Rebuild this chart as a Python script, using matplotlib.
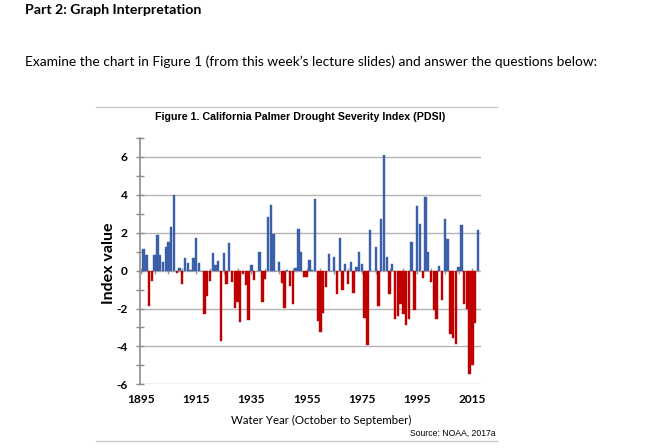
import matplotlib
matplotlib.use("Agg")
import matplotlib.pyplot as plt
from matplotlib.lines import Line2D

plt.rcParams['font.family'] = ['Lato', 'DejaVu Sans']

# California PDSI by water year
years = list(range(1896, 2018))
pdsi = [1.15, 0.85, -1.85, -0.55, 0.81, 1.87, 0.83, 0.46, 1.25, 1.53,
        2.28, 3.99, -0.10, 0.14, -0.70, 0.64, 0.40, 0.02, 0.69, 1.71,
        0.42, 0.0, -2.29, -1.36, -0.53, 0.92, 0.30, 0.51, -3.70, 0.92,
        -0.70, 1.45, -0.62, -1.95, -1.65, -2.70, -0.20, -0.77, -2.58, 0.30,
        -0.47, 0.0, 1.00, -1.65, -0.45, 2.84, 3.45, 1.94, 0.0, 0.44,
        -0.67, -1.95, 0.03, -0.83, -1.76, 0.15, 2.20, 1.00, -0.33, -0.33,
        0.58, 0.03, 3.80, -2.68, -3.26, -2.25, -0.87, 0.88, 0.0, 0.72,
        -1.22, 1.73, -1.04, 0.37, -0.70, 0.44, -1.18, 0.19, 0.99, 0.36,
        -2.50, -3.95, 2.13, 0.0, 1.23, -1.89, 2.70, 6.08, 0.72, -1.22,
        0.35, -2.56, -2.42, -1.76, -2.29, -2.89, -2.56, 1.52, -2.10, 3.40,
        2.47, -0.39, 3.88, 0.98, -0.62, -2.08, -2.56, 0.22, -1.57, 2.70,
        1.68, -3.33, -3.53, -3.88, 0.18, 2.43, -1.75, -2.03, -5.45, -4.97,
        -2.75, 2.17]

xtick_years = list(range(1895, 2016, 20))
ytick_vals = [-6, -4, -2, 0, 2, 4, 6]

blue = '#3b5fa9'
red = '#c00000'
colors = [blue if v >= 0 else red for v in pdsi]

fig = plt.figure(figsize=(6.6, 4.48), dpi=100)

# document text around the chart
fig.text(25/660, 1 - 9.5/448, 'Part 2: Graph Interpretation', fontsize=10.2,
         fontweight='bold', va='center', ha='left')
fig.text(25/660, 1 - 62/448,
         'Examine the chart in Figure 1 (from this week\u2019s lecture slides) and answer the questions below:',
         fontsize=9.9, va='center', ha='left')

# picture border lines
for yy in (107, 440.5):
    fig.add_artist(Line2D([96/660, 497/660], [1 - yy/448] * 2, color='#c8c8c8', lw=1))

ax = fig.add_axes([140/660, 1 - 384.3/448, 341/660, 246.3/448])

ax.bar(years, pdsi, width=0.85, color=colors, edgecolor=colors, linewidth=0.3, zorder=2)
# small ticks on the zero line every 5 years
ax.vlines(range(1895, 2016, 5), -0.16, 0.16, color='#999999', lw=1, zorder=1.5)

ax.set_xlim(1894.7, 2018.1)
ax.set_ylim(-6, 7)
ax.set_xticks(xtick_years)
ax.set_xticklabels([str(y) for y in xtick_years], fontsize=8.6, fontweight='bold')
ax.set_yticks(ytick_vals)
ax.set_yticklabels([str(v) for v in ytick_vals], fontsize=8.6, fontweight='bold')
ax.set_yticks(range(-5, 8, 2), minor=True)
ax.tick_params(axis='x', length=0, pad=7)
ax.tick_params(axis='y', which='both', direction='inout', length=6, width=1,
               color='#8c8c8c', pad=6)

ax.yaxis.grid(True, which='major', color='#b4b4b4', lw=1)
ax.set_axisbelow(True)
for s in ('top', 'right', 'bottom'):
    ax.spines[s].set_visible(False)
ax.spines['left'].set_color('#8c8c8c')
ax.spines['left'].set_linewidth(1.2)
ax.set_facecolor('none')

fig.text(109/660, 1 - 263.5/448, 'Index value', fontsize=11.5, fontweight='bold',
         rotation=90, ha='center', va='center')

fig.text(300/660, 1 - 117/448, 'Figure 1. California Palmer Drought Severity Index (PDSI)',
         fontsize=7.7, fontweight='bold', family='Liberation Sans', ha='center', va='center')
fig.text(321/660, 1 - 420/448, 'Water Year (October to September)',
         fontsize=8.3, ha='center', va='center')
fig.text(495/660, 1 - 433/448, 'Source: NOAA, 2017a', fontsize=6.2,
         family='Liberation Sans', ha='right', va='center')

fig.savefig('out.png', dpi=100)
